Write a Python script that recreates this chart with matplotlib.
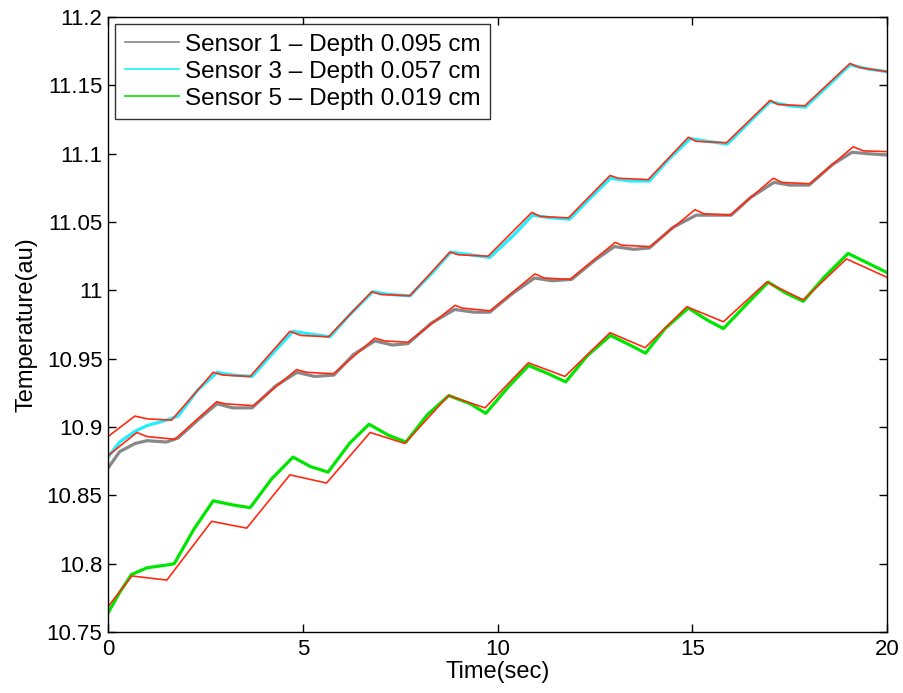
import matplotlib
matplotlib.use('Agg')
import matplotlib.pyplot as plt
from matplotlib.lines import Line2D

plt.rcParams['font.family'] = ['Liberation Sans', 'DejaVu Sans']

# Leituras dos sensores
t_s1 = [0, 0.3, 0.7, 1.0, 1.5, 1.8, 2.3, 2.8, 3.2, 3.7, 4.3, 4.85, 5.3, 5.8, 6.3, 6.85, 7.3, 7.7,
        8.3, 8.9, 9.4, 9.8, 10.4, 10.95, 11.4, 11.9, 12.5, 13.0, 13.5, 13.9, 14.5, 15.1, 15.5, 16.0,
        16.5, 17.1, 17.5, 18.0, 18.6, 19.1, 19.5, 20]
sensor1 = [10.870, 10.882, 10.888, 10.890, 10.889, 10.892, 10.905, 10.917, 10.914, 10.914, 10.930,
           10.940, 10.937, 10.938, 10.953, 10.963, 10.960, 10.961, 10.976, 10.986, 10.984, 10.984,
           10.998, 11.009, 11.007, 11.008, 11.022, 11.032, 11.030, 11.031, 11.046, 11.055, 11.055,
           11.055, 11.068, 11.079, 11.077, 11.077, 11.092, 11.101, 11.100, 11.099]

t_s3 = [0, 0.3, 0.7, 1.0, 1.5, 1.8, 2.3, 2.8, 3.2, 3.7, 4.2, 4.75, 5.2, 5.7, 6.2, 6.8, 7.2, 7.75,
        8.3, 8.8, 9.3, 9.8, 10.4, 10.9, 11.4, 11.85, 12.4, 12.9, 13.4, 13.9, 14.4, 14.95, 15.4, 15.9,
        16.5, 17.0, 17.5, 17.9, 18.5, 19.05, 19.5, 20]
sensor3 = [10.878, 10.889, 10.897, 10.901, 10.905, 10.908, 10.927, 10.940, 10.938, 10.937, 10.953,
           10.970, 10.968, 10.966, 10.982, 10.999, 10.997, 10.996, 11.012, 11.028, 11.026, 11.024,
           11.040, 11.055, 11.053, 11.052, 11.068, 11.082, 11.080, 11.080, 11.096, 11.111, 11.109,
           11.107, 11.124, 11.138, 11.135, 11.134, 11.150, 11.165, 11.162, 11.160]

t_s5 = [0, 0.3, 0.6, 1.0, 1.5, 1.7, 2.2, 2.7, 3.2, 3.65, 4.2, 4.75, 5.2, 5.65, 6.2, 6.7, 7.2, 7.65,
        8.2, 8.75, 9.3, 9.7, 10.3, 10.8, 11.3, 11.75, 12.3, 12.9, 13.4, 13.8, 14.3, 14.9, 15.4, 15.8,
        16.4, 16.95, 17.4, 17.85, 18.4, 19.0, 19.5, 20]
sensor5 = [10.764, 10.779, 10.792, 10.797, 10.799, 10.800, 10.825, 10.846, 10.843, 10.841, 10.862,
           10.878, 10.871, 10.867, 10.888, 10.902, 10.894, 10.889, 10.909, 10.923, 10.917, 10.910,
           10.930, 10.945, 10.939, 10.933, 10.952, 10.967, 10.960, 10.954, 10.972, 10.987, 10.978,
           10.972, 10.990, 11.006, 10.998, 10.992, 11.010, 11.027, 11.020, 11.013]

# Curvas do modelo (vermelho)
t_m1 = [0, 0.74, 1.0, 1.72, 2.79, 3.0, 3.73, 4.84, 5.1, 5.79, 6.85, 7.1, 7.7, 8.91, 9.1, 9.81,
        10.96, 11.2, 11.86, 13.02, 13.2, 13.92, 15.07, 15.3, 15.97, 17.08, 17.3, 18.02, 19.13, 19.4, 20]
modelo1 = [10.879, 10.896, 10.893, 10.891, 10.9185, 10.917, 10.9156, 10.942, 10.940, 10.939, 10.965,
           10.963, 10.962, 10.989, 10.987, 10.985, 11.012, 11.009, 11.008, 11.035, 11.033, 11.032,
           11.059, 11.056, 11.055, 11.082, 11.079, 11.078, 11.105, 11.102, 11.1015]

t_m3 = [0, 0.69, 1.0, 1.63, 2.70, 2.95, 3.65, 4.67, 4.95, 5.66, 6.77, 7.0, 7.75, 8.78, 9.0, 9.76,
        10.88, 11.1, 11.82, 12.89, 13.1, 13.87, 14.90, 15.1, 15.88, 17.0, 17.2, 17.89, 19.05, 19.3, 20]
modelo3 = [10.893, 10.908, 10.906, 10.905, 10.940, 10.938, 10.937, 10.970, 10.967, 10.966, 10.999,
           10.997, 10.996, 11.028, 11.026, 11.025, 11.057, 11.054, 11.053, 11.084, 11.082, 11.081,
           11.112, 11.109, 11.108, 11.139, 11.136, 11.135, 11.166, 11.163, 11.160]

t_m5 = [0, 0.61, 1.51, 2.66, 3.56, 4.67, 5.61, 6.73, 7.62, 8.74, 9.68, 10.79, 11.73, 12.89, 13.79,
        14.86, 15.80, 16.91, 17.85, 18.96, 20]
modelo5 = [10.7685, 10.791, 10.788, 10.831, 10.826, 10.865, 10.859, 10.896, 10.888, 10.923, 10.914,
           10.947, 10.937, 10.969, 10.958, 10.988, 10.977, 11.006, 10.993, 11.023, 11.0095]

rotulos = ['Sensor 1 \u2013 Depth 0.095 cm',
           'Sensor 3 \u2013 Depth 0.057 cm',
           'Sensor 5 \u2013 Depth 0.019 cm']
cores = ['#888888', '#22eeff', '#00e600']
cor_modelo = '#ff2a10'

fig = plt.figure(figsize=(9.04, 6.93), dpi=100)
ax = fig.add_axes([0.1195, 0.088, 0.8617, 0.8875])

ax.plot(t_s1, sensor1, color=cores[0], lw=2.3, solid_joinstyle='round')
ax.plot(t_s3, sensor3, color=cores[1], lw=2.3, solid_joinstyle='round')
ax.plot(t_s5, sensor5, color=cores[2], lw=2.3, solid_joinstyle='round')

for tm, vm in [(t_m1, modelo1), (t_m3, modelo3), (t_m5, modelo5)]:
    ax.plot(tm, vm, color=cor_modelo, lw=1.2, solid_joinstyle='round')

ax.set_xlim(0, 20)
ax.set_ylim(10.75, 11.2)
ax.set_xticks([0, 5, 10, 15, 20])
ax.set_xticklabels(['0', '5', '10', '15', '20'])
yt = [10.75, 10.8, 10.85, 10.9, 10.95, 11, 11.05, 11.1, 11.15, 11.2]
ax.set_yticks(yt)
ax.set_yticklabels(['10.75', '10.8', '10.85', '10.9', '10.95', '11', '11.05', '11.1', '11.15', '11.2'])
ax.tick_params(direction='in', top=True, right=True, length=6, width=1, labelsize=16)
ax.tick_params(axis='y', pad=4)
ax.tick_params(axis='x', pad=5)
for s in ax.spines.values():
    s.set_linewidth(1)

ax.set_xlabel('Time(sec)', fontsize=17, labelpad=1)
ax.set_ylabel('Temperature(au)', fontsize=17, labelpad=7)

handles = [Line2D([], [], color=c, lw=1.2) for c in cores]
leg = ax.legend(handles, rotulos, loc='upper left', fontsize=17.5, frameon=True, fancybox=False,
                edgecolor='black', handlelength=2.2, handletextpad=0.25, borderpad=0.4,
                labelspacing=0.2, borderaxespad=0.3)
leg.get_frame().set_linewidth(1)

fig.savefig('out.png', dpi=100)
